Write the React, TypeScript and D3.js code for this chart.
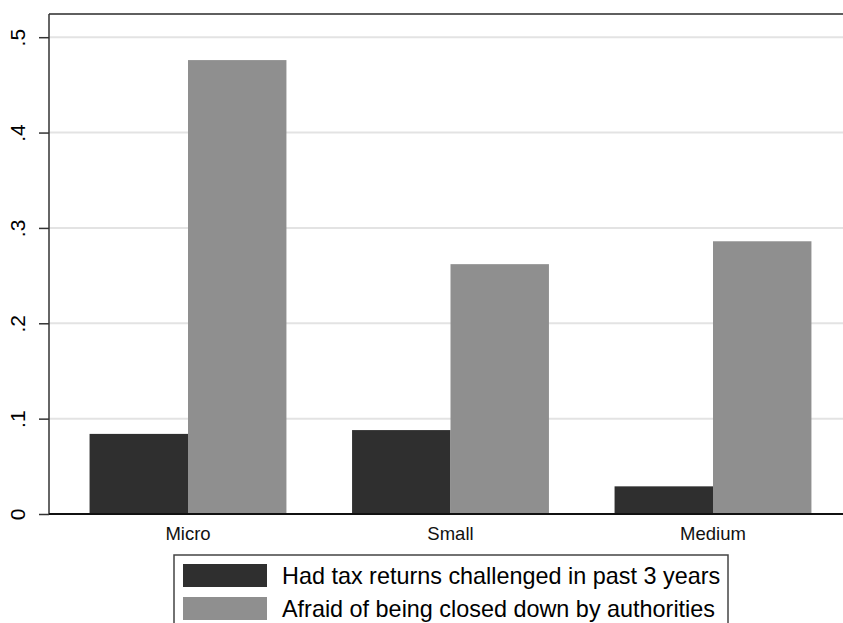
import { useEffect, useRef } from 'react';
import * as d3 from 'd3';

const CATEGORIES = ['Micro', 'Small', 'Medium'];
const SERIES_NAMES = [
  'Had tax returns challenged in past 3 years',
  'Afraid of being closed down by authorities'
];
const CHALLENGED = [0.084, 0.088, 0.029];
const AFRAID = [0.476, 0.262, 0.286];
const Y_TICKS = [0, 0.1, 0.2, 0.3, 0.4, 0.5];
const Y_TICK_LABELS = ['0', '.1', '.2', '.3', '.4', '.5'];

const COLORS = ['#2f2f2f', '#8f8f8f'];
const WIDTH = 843;
const HEIGHT = 623;
const FONT = '"Liberation Sans", Arial, sans-serif';

export default function App() {
  const svgRef = useRef<SVGSVGElement>(null);

  useEffect(() => {
    if (!svgRef.current) return;
    const svg = d3.select(svgRef.current);
    svg.selectAll('*').remove();

    // plot area
    const left = 49;
    const top = 14;
    const bottom = 514;

    const yScale = d3.scaleLinear().domain([0, 0.5]).range([bottom, 37.2]);

    const xScale = d3.scaleBand<string>()
      .domain(CATEGORIES)
      .range([56.75, 844.25])
      .paddingInner(0.25)
      .paddingOuter(0.125);

    const subScale = d3.scaleBand<number>()
      .domain([0, 1])
      .range([0, xScale.bandwidth()]);

    // gridlines
    svg.append('g')
      .selectAll('line')
      .data(Y_TICKS.filter(d => d > 0))
      .join('line')
      .attr('x1', left)
      .attr('x2', WIDTH + 10)
      .attr('y1', d => yScale(d))
      .attr('y2', d => yScale(d))
      .attr('stroke', '#e3e3e3')
      .attr('stroke-width', 2);

    // bars
    const series = [CHALLENGED, AFRAID];
    series.forEach((values, si) => {
      svg.append('g')
        .selectAll('rect')
        .data(CATEGORIES)
        .join('rect')
        .attr('x', d => xScale(d)! + subScale(si)!)
        .attr('y', (d, i) => yScale(values[i]))
        .attr('width', subScale.bandwidth())
        .attr('height', (d, i) => bottom - yScale(values[i]))
        .attr('fill', COLORS[si]);
    });

    // frame: top line and axes
    svg.append('line')
      .attr('x1', left).attr('x2', WIDTH + 10)
      .attr('y1', top).attr('y2', top)
      .attr('stroke', '#2a2a2a').attr('stroke-width', 1.5);

    const yAxis = d3.axisLeft(yScale)
      .tickValues(Y_TICKS)
      .tickSize(10)
      .tickFormat((d, i) => Y_TICK_LABELS[i]);

    const yg = svg.append('g')
      .attr('transform', `translate(${left},0)`)
      .call(yAxis);
    yg.select('.domain').remove();
    yg.selectAll('line').attr('stroke', '#333').attr('stroke-width', 1.5);
    yg.selectAll('text')
      .attr('font-family', FONT)
      .attr('font-size', 21)
      .attr('fill', '#000')
      .attr('x', 0)
      .attr('dy', 0)
      .attr('text-anchor', 'middle')
      .attr('transform', 'translate(-24,0) rotate(-90)');

    svg.append('line')
      .attr('x1', left).attr('x2', left)
      .attr('y1', top).attr('y2', bottom)
      .attr('stroke', '#333').attr('stroke-width', 1.5);

    svg.append('line')
      .attr('x1', left).attr('x2', WIDTH + 10)
      .attr('y1', bottom).attr('y2', bottom)
      .attr('stroke', '#111').attr('stroke-width', 2);

    // category labels
    svg.append('g')
      .selectAll('text')
      .data(CATEGORIES)
      .join('text')
      .attr('x', d => xScale(d)! + xScale.bandwidth() / 2)
      .attr('y', 540)
      .attr('text-anchor', 'middle')
      .attr('font-family', FONT)
      .attr('font-size', 18.5)
      .attr('fill', '#111')
      .text(d => d);

    // legend
    const legend = svg.append('g');
    legend.append('rect')
      .attr('x', 174)
      .attr('y', 555)
      .attr('width', 554)
      .attr('height', 90)
      .attr('fill', '#fff')
      .attr('stroke', '#444')
      .attr('stroke-width', 1.5);

    SERIES_NAMES.forEach((name, i) => {
      const y0 = 564 + i * 33;
      legend.append('rect')
        .attr('x', 183)
        .attr('y', y0)
        .attr('width', 84)
        .attr('height', 23)
        .attr('fill', COLORS[i]);
      legend.append('text')
        .attr('x', 282)
        .attr('y', y0 + 20)
        .attr('font-family', FONT)
        .attr('font-size', 23.4)
        .attr('fill', '#000')
        .text(name);
    });
  }, []);

  return (
    <svg
      ref={svgRef}
      width={WIDTH}
      height={HEIGHT}
      style={{ position: 'absolute', left: 0, top: 0, background: '#fff' }}
    />
  );
}
